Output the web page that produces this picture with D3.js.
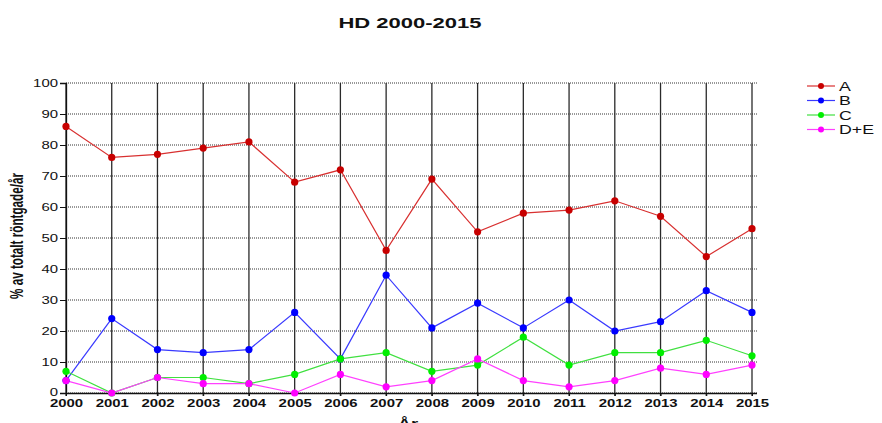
<!DOCTYPE html>
<html><head><meta charset="utf-8">
<script src="https://cdn.jsdelivr.net/npm/d3@7"></script>
<style>body{margin:0;background:#fff}svg{display:block}text{font-family:"Liberation Sans",Arial,sans-serif;fill:#111}</style>
</head><body><svg id="c" width="882" height="423"></svg>
<script>
const years = [2000,2001,2002,2003,2004,2005,2006,2007,2008,2009,2010,2011,2012,2013,2014,2015];
const seriesA = [86,76,77,79,81,68,72,46,69,52,58,59,62,57,44,53];
const seriesB = [4,24,14,13,14,26,11,38,21,29,21,30,20,23,33,26];
const seriesC = [7,0,5,5,3,6,11,13,7,9,18,9,13,13,17,12];
const seriesDE = [4,0,5,3,3,0,6,2,4,11,4,2,4,8,6,9];
const seriesNames = ["A","B","C","D+E"];
const yTicks = [0,10,20,30,40,50,60,70,80,90,100];
const title = "HD 2000-2015";
const xLabel = "År";
const yLabel = "% av totalt röntgade/år";

const lineColors = ["#d83030","#3a3aff","#40e040","#ff40ff"];
const dotColors = ["#c80000","#0000ff","#00ee00","#ff00ff"];
const allSeries = [seriesA, seriesB, seriesC, seriesDE];

const svg = d3.select("#c");
const x = d3.scaleLinear().domain([2000,2015]).range([66,752]);
const y = d3.scaleLinear().domain([0,100]).range([393,83]);
const SX = 1.42;
function stretch(sel){ sel.each(function(){ const l=this.getComputedTextLength(); d3.select(this).attr("textLength", l*SX).attr("lengthAdjust","spacingAndGlyphs"); }); }

// horizontal dotted grid
svg.append("g").selectAll("line").data(yTicks).join("line")
  .attr("x1",x(2000)).attr("x2",757).attr("y1",d=>y(d)).attr("y2",d=>y(d))
  .attr("stroke","#333").attr("stroke-width",1).attr("stroke-dasharray","1,1");
// vertical solid grid
svg.append("g").selectAll("line").data(years).join("line")
  .attr("x1",d=>x(d)).attr("x2",d=>x(d)).attr("y1",y(100)).attr("y2",y(0)+3)
  .attr("stroke","#2a2a2a").attr("stroke-width",1.3);

// axes
const ya = svg.append("g").attr("transform",`translate(${x(2000)},0)`)
  .call(d3.axisLeft(y).tickValues(yTicks).tickSize(6).tickPadding(2).tickFormat(d3.format("d")));
ya.select(".domain").attr("stroke","#111").attr("stroke-width",1.3);
ya.selectAll(".tick line").attr("stroke","#111");
ya.selectAll("text").attr("font-size",10.5).attr("fill","#111").style("font-family","Liberation Sans, Arial, sans-serif");
ya.selectAll(".tick text").filter(d=>d===0).attr("dy","0.2em");
const xa = svg.append("g").attr("transform",`translate(0,${y(0)})`)
  .call(d3.axisBottom(x).tickValues(years).tickSize(3).tickPadding(4).tickFormat(d3.format("d")));
xa.select(".domain").attr("stroke","#111").attr("stroke-width",1.3).attr("d",`M${x(2000)},0.5H757`);
xa.selectAll(".tick line").attr("stroke","#111");
xa.selectAll("text").attr("font-size",10.5).attr("fill","#111").attr("font-weight","bold").style("font-family","Liberation Sans, Arial, sans-serif");
stretch(ya.selectAll("text")); stretch(xa.selectAll("text"));

// series
const line = d3.line().x((d,i)=>x(years[i])).y(d=>y(d));
allSeries.forEach((s,k)=>{
  svg.append("path").datum(s).attr("d",line).attr("fill","none").attr("stroke",lineColors[k]).attr("stroke-width",1.2);
});
allSeries.forEach((s,k)=>{
  svg.append("g").selectAll("circle").data(s).join("circle")
    .attr("cx",(d,i)=>x(years[i])).attr("cy",d=>y(d)).attr("r",3.6).attr("fill",dotColors[k]);
});

// legend
const lg = svg.append("g");
seriesNames.forEach((n,k)=>{
  const yy = 86 + k*14.5;
  lg.append("line").attr("x1",807).attr("x2",835).attr("y1",yy).attr("y2",yy).attr("stroke",lineColors[k]).attr("stroke-width",1.2);
  lg.append("circle").attr("cx",821).attr("cy",yy).attr("r",3).attr("fill",dotColors[k]);
  lg.append("text").attr("x",839).attr("y",yy+4.5).attr("font-size",12.5).text(n).call(stretch);
});

// title
svg.append("text").attr("x",410).attr("y",28).attr("text-anchor","middle").attr("font-size",15.5).attr("font-weight","bold").text(title).call(stretch);
// axis labels
svg.append("text").attr("x",408).attr("y",428).attr("text-anchor","middle").attr("font-size",13).attr("font-weight","bold").text(xLabel).call(stretch);
svg.append("text").attr("transform","translate(23,236) rotate(-90) scale(1,1.35)").attr("text-anchor","middle").attr("font-size",13).attr("font-weight","bold").text(yLabel)
  .each(function(){ d3.select(this).attr("textLength",126).attr("lengthAdjust","spacingAndGlyphs"); });
</script></body></html>
